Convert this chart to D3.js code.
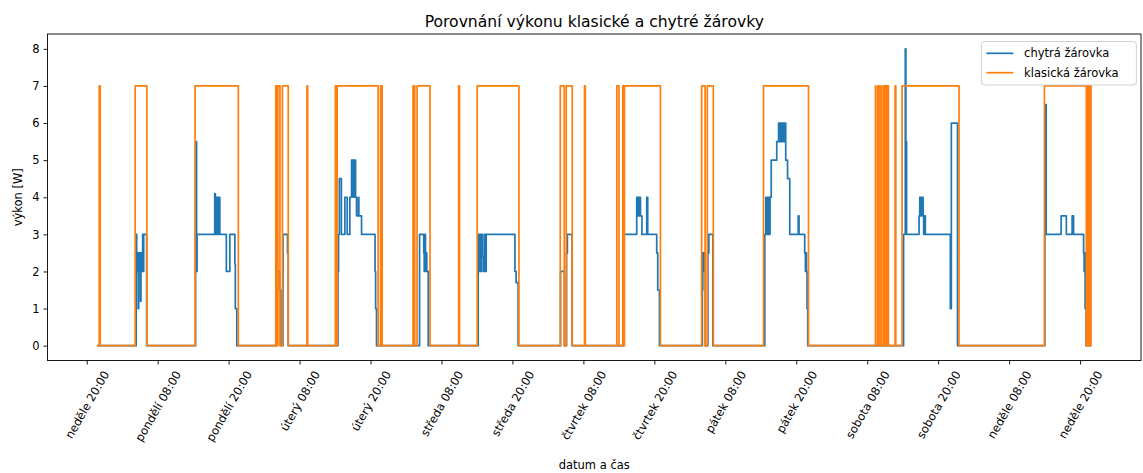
<!DOCTYPE html>
<html>
<head>
<meta charset="utf-8">
<script src="https://cdn.jsdelivr.net/npm/d3@7/dist/d3.min.js"></script>
<style>
  body { margin: 0; background: #fff; }
  svg { font-family: "DejaVu Sans", sans-serif; }
</style>
</head>
<body>
<svg id="chart" width="1143" height="473"></svg>
<script>
// time = hours counted from Sunday 00:00, power in W
const smartTimes = [
  21.77,
  28.36, 28.44, 28.53, 28.61, 28.70, 28.78, 28.87, 28.95, 29.09, 29.17, 29.26, 29.37, 29.46, 29.54, 29.63, 30.13,
  38.41, 38.58, 38.66, 41.65, 41.75, 41.84, 41.94, 42.04, 42.14, 42.24, 42.34, 42.45, 42.51, 43.61, 44.20, 45.05, 45.13, 45.38,
  52.09, 52.60, 52.85, 53.19, 53.95, 54.08,
  62.48, 62.59, 62.73, 63.07, 63.66, 64.05, 64.50, 64.79, 64.89, 64.98, 65.08, 65.18, 65.47, 65.63, 65.94, 66.02, 66.48, 68.76, 68.86, 69.01,
  76.29, 77.00, 77.08, 77.20, 77.29, 77.42, 77.51, 77.76,
  86.21, 86.34, 86.49, 86.63, 86.80, 86.97, 87.13, 87.30, 87.42, 87.56, 92.42, 92.62, 92.96,
  100.14, 100.78, 101.15, 101.29, 102.08,
  110.78, 113.02, 113.14, 113.23, 113.40, 113.48, 113.65, 113.90, 114.71, 114.88, 116.40, 116.57, 116.86,
  124.12, 124.20, 124.37, 124.49, 124.63, 125.05, 125.22, 125.89,
  134.68, 134.85, 134.96, 135.10, 135.23, 135.35, 135.49, 135.57, 135.77, 136.70, 137.01, 137.21, 137.35, 137.55, 137.68, 137.89, 138.02, 138.22, 138.53, 138.90, 140.33, 140.47, 141.43, 141.55, 141.65, 141.73, 141.82, 141.94,
  158.15, 158.44, 158.54, 158.66, 160.77, 160.89, 160.99, 161.09, 161.19, 161.31, 161.45, 161.55, 161.63, 161.83, 166.06, 166.23, 167.27,
  182.05, 182.27, 184.80, 185.68, 186.66, 186.90, 188.60, 188.69, 188.77, 188.86, 189.02,
  189.90
];
const smartValues = [
  0,
  3, 2.5, 2, 2.5, 1, 2.5, 2, 2.5, 1.2, 2, 2.5, 2, 3, 2, 3, 0,
  5.5, 2, 3, 4.1, 3, 4, 3, 4, 3, 4, 3, 4, 3, 2, 3, 2.2, 1, 0,
  2, 1.5, 0, 3, 2.5, 0,
  2, 3, 4.5, 3, 4, 3, 4, 5, 4.5, 5, 4, 5, 4, 3.5, 4, 3.5, 3, 2, 1, 0,
  3, 2.5, 2, 3, 2, 2.5, 2, 0,
  3, 2, 3, 2, 3, 2.4, 2, 3, 2, 3, 2, 1.7, 0,
  2, 0, 2.5, 3, 0,
  3, 4, 3.5, 4, 3.5, 4, 3.5, 3, 4, 3, 2.5, 1.5, 0,
  1.5, 2.5, 2, 2.5, 0, 2.5, 3, 0,
  3, 4, 3, 4, 3, 4, 3, 4, 5, 5.5, 6, 5.5, 6, 5.5, 6, 5.5, 6, 5, 4.5, 3, 3.5, 3, 2.5, 2, 2.5, 2, 1, 0,
  3, 8, 5.5, 3, 3.5, 4, 3.5, 4, 3.5, 4, 3.5, 3, 3.5, 3, 1, 6, 0,
  6.5, 3, 3.5, 3, 3.5, 3, 2.5, 2, 2.5, 1, 0,
  0
];

const classicTimes = [
  21.77, 22.11, 22.28, 28.19, 30.17, 38.32, 45.64, 51.97, 52.21, 52.34, 52.68, 53.10, 54.08, 57.24, 57.37,
  62.05, 62.22, 62.36, 69.28, 69.69, 69.96, 75.19, 75.48, 75.87, 78.06, 82.91, 83.05, 86.04, 93.10,
  100.09, 100.76, 101.10, 102.11, 104.19, 104.33, 109.65, 110.02, 110.66, 110.81, 110.95, 117.03,
  124.00, 124.58, 124.96, 125.98, 134.46, 142.07,
  153.39, 153.47, 153.80, 154.01, 154.32, 154.40, 154.72, 154.86, 154.94, 155.08, 155.16, 155.30, 155.38, 155.59,
  156.72, 156.84, 157.90, 167.53, 181.97,
  189.06, 189.16, 189.26, 189.36, 189.46, 189.56, 189.67, 189.77, 189.85, 189.90
];
const classicValues = [
  0, 7, 0, 7, 0, 7, 0, 7, 0, 7, 0, 7, 0, 7, 0,
  7, 0, 7, 0, 7, 0, 7, 0, 7, 0, 7, 0, 7, 0,
  7, 0, 7, 0, 7, 0, 7, 0, 7, 0, 7, 0,
  7, 0, 7, 0, 7, 0,
  7, 0, 7, 0, 7, 0, 7, 0, 7, 0, 7, 0, 7, 0,
  7, 0, 7, 0, 7,
  0, 7, 0, 7, 0, 7, 0, 7, 0, 0
];

const tickHours = [20, 32, 44, 56, 68, 80, 92, 104, 116, 128, 140, 152, 164, 176, 188];
const tickLabels = [
  "neděle 20:00", "pondělí 08:00", "pondělí 20:00", "úterý 08:00", "úterý 20:00",
  "středa 08:00", "středa 20:00", "čtvrtek 08:00", "čtvrtek 20:00", "pátek 08:00",
  "pátek 20:00", "sobota 08:00", "sobota 20:00", "neděle 08:00", "neděle 20:00"
];
const yTicks = [0, 1, 2, 3, 4, 5, 6, 7, 8];
const seriesNames = ["chytrá žárovka", "klasická žárovka"];
const colors = ["#1f77b4", "#ff7f0e"];

const svg = d3.select("#chart");
const axL = 47.5, axR = 1141, axT = 34, axB = 360.5;
const fs = 11.5;

const span = d3.max(smartTimes) - d3.min(smartTimes);
const x = d3.scaleLinear()
  .domain([d3.min(smartTimes) - span * 0.05, d3.max(smartTimes) + span * 0.05])
  .range([axL, axR]);
const y = d3.scaleLinear().domain([-0.4, 8.4]).range([axB, axT]);

const series = [
  smartTimes.map((t, i) => [t, smartValues[i]]),
  classicTimes.map((t, i) => [t, classicValues[i]])
];

const line = d3.line()
  .x(d => x(d[0]))
  .y(d => y(d[1]))
  .curve(d3.curveStepAfter);

const plot = svg.append("g");
series.forEach((s, i) => {
  plot.append("path")
    .datum(s)
    .attr("d", line)
    .attr("fill", "none")
    .attr("stroke", colors[i])
    .attr("stroke-width", 1.7)
    .attr("stroke-linejoin", "round");
});

// frame
svg.append("rect")
  .attr("x", axL).attr("y", axT)
  .attr("width", axR - axL).attr("height", axB - axT)
  .attr("fill", "none").attr("stroke", "#000").attr("stroke-width", 0.9);

// x axis
const xAxis = svg.append("g")
  .attr("transform", `translate(0,${axB})`)
  .call(d3.axisBottom(x).tickValues(tickHours).tickFormat((d, i) => tickLabels[i]).tickSize(4));
xAxis.select(".domain").remove();
xAxis.selectAll("line").attr("stroke", "#000").attr("stroke-width", 0.9);
xAxis.selectAll("text")
  .attr("font-size", fs).attr("font-family", "DejaVu Sans").attr("fill", "#000")
  .each(function () {
    const w = this.getComputedTextLength();
    const h = fs * 1.16;
    const boxH = w * Math.sin(Math.PI / 3) + h * Math.cos(Math.PI / 3);
    d3.select(this)
      .attr("x", 0).attr("y", 0).attr("dy", null)
      .attr("text-anchor", "middle")
      .attr("dominant-baseline", "central")
      .attr("transform", `translate(0,${8 + boxH / 2}) rotate(-60)`);
  });

// y axis
const yAxis = svg.append("g")
  .attr("transform", `translate(${axL},0)`)
  .call(d3.axisLeft(y).tickValues(yTicks).tickSize(4).tickPadding(4));
yAxis.select(".domain").remove();
yAxis.selectAll("line").attr("stroke", "#000").attr("stroke-width", 0.9);
yAxis.selectAll("text").attr("font-size", fs).attr("font-family", "DejaVu Sans").attr("fill", "#000");

// labels
svg.append("text")
  .attr("x", (axL + axR) / 2).attr("y", 26.5)
  .attr("text-anchor", "middle").attr("font-size", 15.6)
  .text("Porovnání výkonu klasické a chytré žárovky");

svg.append("text")
  .attr("x", (axL + axR) / 2).attr("y", 469)
  .attr("text-anchor", "middle").attr("font-size", fs)
  .text("datum a čas");

svg.append("text")
  .attr("transform", `translate(18,${(axT + axB) / 2}) rotate(-90)`)
  .attr("text-anchor", "middle").attr("dominant-baseline", "central").attr("font-size", fs)
  .text("výkon [W]");

// legend
const lg = svg.append("g").attr("transform", `translate(${axR - 4.6 - 155},${axT + 7.5})`);
lg.append("rect")
  .attr("width", 155).attr("height", 43.5).attr("rx", 3)
  .attr("fill", "#fff").attr("fill-opacity", 0.8)
  .attr("stroke", "#ccc").attr("stroke-width", 0.9);
seriesNames.forEach((name, i) => {
  const yy = 11.8 + i * 19.4;
  lg.append("line")
    .attr("x1", 5).attr("x2", 32).attr("y1", yy).attr("y2", yy)
    .attr("stroke", colors[i]).attr("stroke-width", 1.7);
  lg.append("text")
    .attr("x", 42.7).attr("y", yy)
    .attr("dominant-baseline", "central").attr("font-size", fs)
    .text(name);
});
</script>
</body>
</html>
